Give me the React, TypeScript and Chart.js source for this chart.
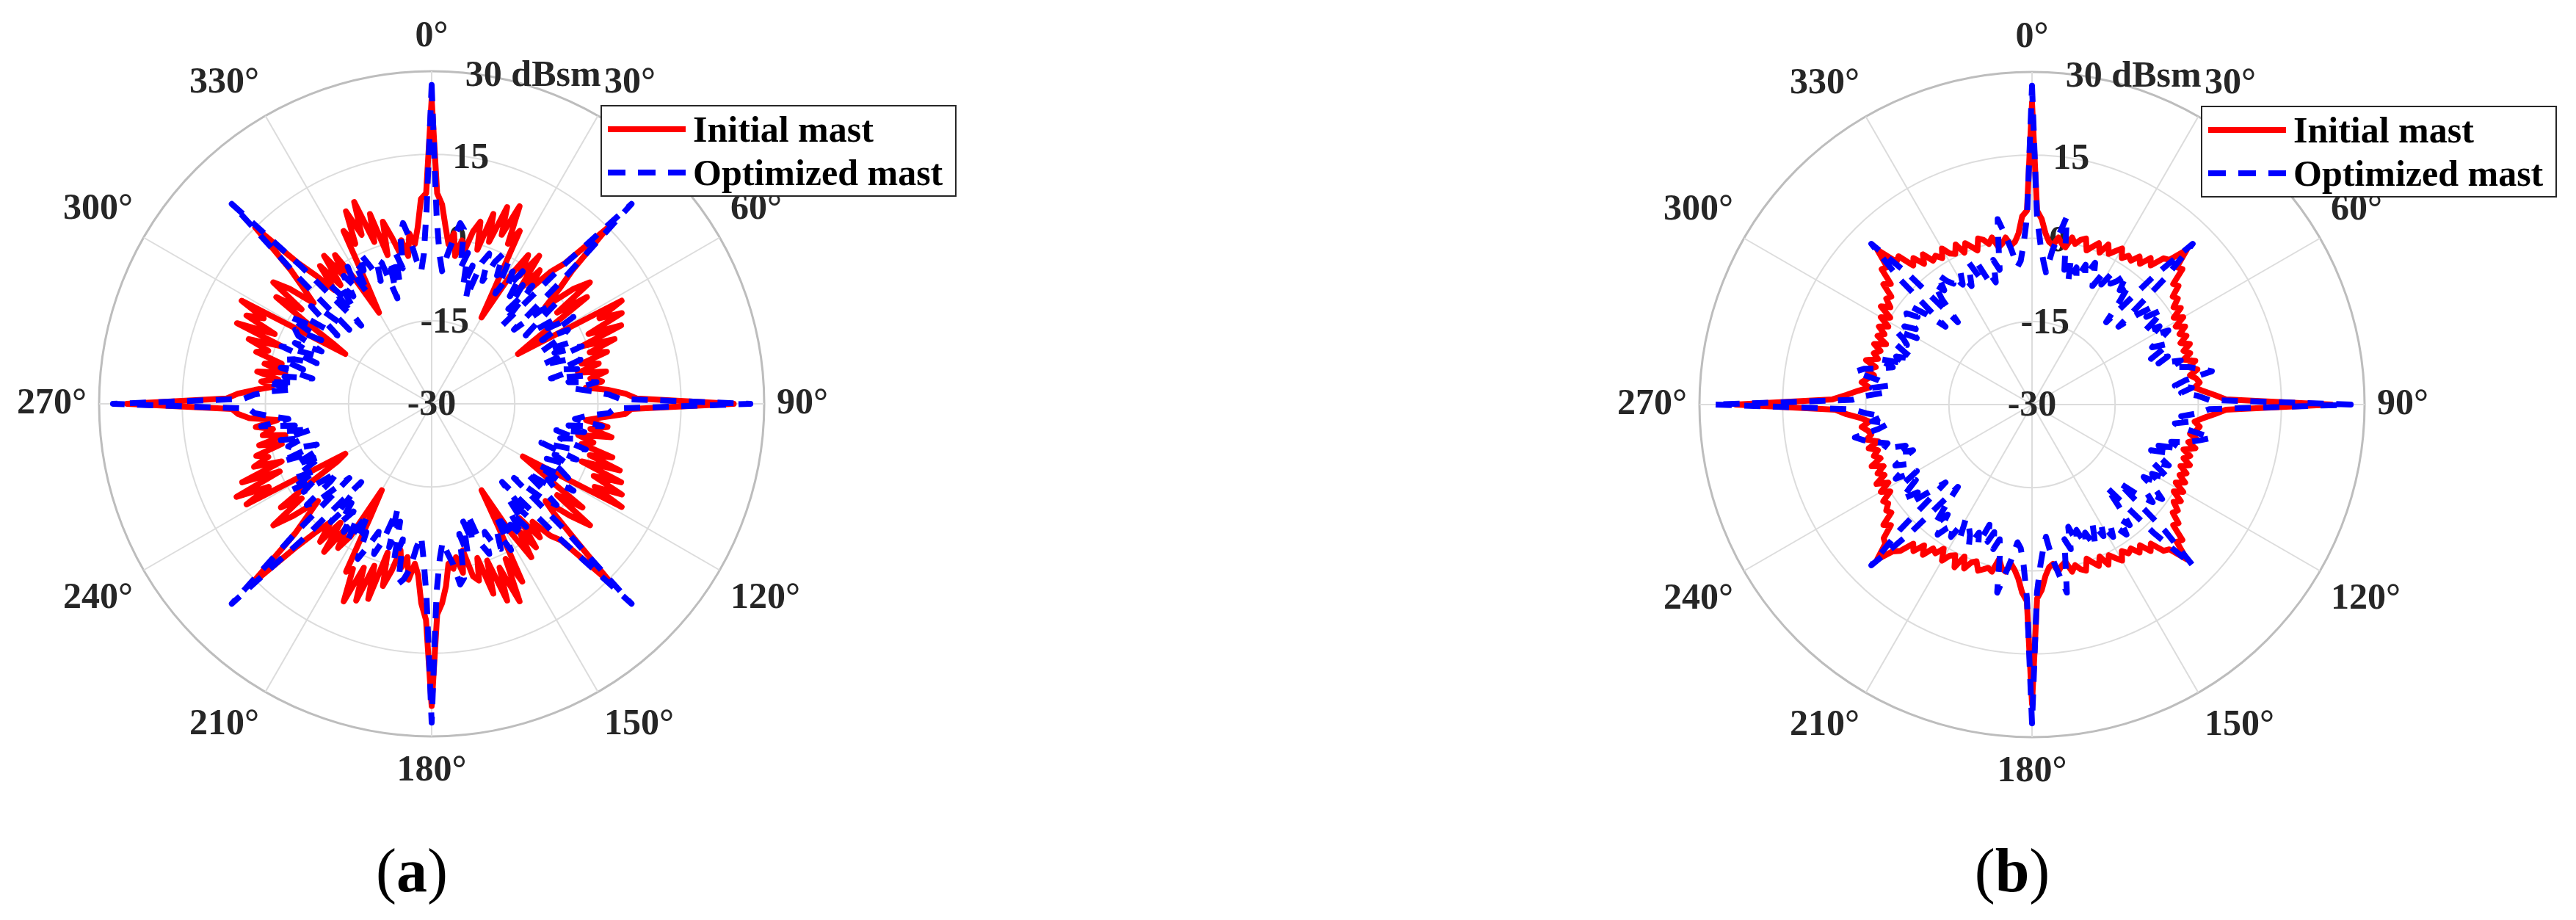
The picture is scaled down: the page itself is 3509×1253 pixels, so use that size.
import React, { useEffect, useRef } from 'react';
import { Chart, registerables } from 'chart.js';

Chart.register(...registerables);

// ---------- categories / ticks ----------
const ANGLE_STEP = 1.5;
const ANGLES = Array.from({ length: 240 }, (_, i) => i * ANGLE_STEP);
const ANGLE_LABELS = ANGLES.map((a) => (a % 30 === 0 ? `${a}°` : ''));
const R_TICKS = [-30, -15, 0, 15, 30];
const R_UNIT = 'dBsm';
const R_LABEL_ANGLE = 9;
const SERIES_NAMES = ['Initial mast', 'Optimized mast'];
const PANEL_LABELS = ['a', 'b'];

// ---------- series values (dBsm), 1.5° steps starting at 0° ----------
const INITIAL_A = [
  25, 8, 6, 2, -1, 1, -3, 0, -2, 2, 4, -1, 6, 1, 8, 3, 9, 2, 5, -6, -12, -3, 2, -2, 3, -4, 1, -3, 2, 5,
  15, 5, 1, -3, 3, 6, -2, 4, -4, -9, -12, 9, 4, 8, 1, 7, -1, 5, 0, 3, -2, 1, -3, 2, -1, 1, -2, 2, 5, 7,
  24.5, 6, 5, 1, -2, 2, -1, 3, -3, 0, -2, 4, 0, 6, -1, 7, 2, 8, 3, 9, -11, -8, -4, 3, -2, 6, 2, -3, 0, 6,
  16, 4, 2, -2, 1, -4, 2, -2, 3, -3, -12, -5, 6, 1, 9, 2, 8, 0, 6, -1, 3, 2, -3, 1, -2, 0, -1, 3, 6, 8,
  24.5, 9, 6, 1, -1, 2, -2, 0, -3, 1, 4, -2, 7, 1, 8, 2, 9, 3, 4, -7, -12, -2, 1, -3, 3, -3, 2, -2, 1, 6,
  16, 4, 0, -3, 2, 6, -1, 3, -4, -10, -12, 8, 3, 9, 0, 7, -1, 4, 1, 3, -2, 2, -3, 1, -1, 2, -2, 3, 5, 6,
  25, 7, 5, 2, -1, 1, -2, 2, -3, 1, -2, 3, 1, 5, -1, 8, 1, 7, 4, 9, -12, -9, -3, 4, -1, 6, 3, -2, 1, 5,
  15, 5, 1, -3, 2, -3, 3, -2, 2, -4, -11, -6, 5, 2, 8, 3, 9, 1, 6, -2, 4, 1, -2, 0, -3, 1, -1, 2, 7, 8,
];

const OPTIMIZED_A = [
  27.5, 4, -3, -6, -3, 0, 3, 2, -5, -2, -8, -4, -10, -3, -1, -6, -2, 0, -4, -1, -7, -2, -5, -1, -6, -3, -8, -2, -11, 4,
  21, 3, -10, -4, -1, -6, -9, -3, -5, 0, -7, -2, -4, -8, -3, -6, -1, -9, -4, -2, -6, -3, -8, -2, -5, 0, -4, -1, 2, 4,
  27.5, 3, 2, -2, -4, 1, -5, -2, -7, -3, -6, -1, -4, -9, -2, -6, -3, -7, -4, -2, -8, 0, -5, -3, -9, -5, -1, -4, -10, 4,
  21, 3, -11, -3, -8, -2, -6, -1, -4, -2, -7, 0, -4, -1, -2, -5, -1, -3, -9, -4, -8, -2, -6, 2, 3, -1, -3, -5, -2, 4,
  27.5, 5, -2, -6, -4, 0, 2, 3, -5, -1, -8, -3, -10, -4, -1, -5, -2, 1, -4, -2, -7, -1, -5, -2, -6, -3, -7, -2, -11, 3,
  21, 4, -10, -3, -1, -7, -9, -2, -5, 0, -6, -2, -5, -8, -3, -7, -1, -8, -4, -3, -6, -2, -8, -3, -5, 1, -4, -1, 2, 3,
  27.5, 4, 2, -1, -5, 0, -5, -3, -8, -2, -6, -2, -4, -8, -1, -7, -3, -8, -3, -2, -7, 0, -4, -3, -9, -6, -2, -4, -10, 3,
  21, 4, -11, -2, -7, -3, -6, -2, -5, -1, -7, -1, -3, 0, -3, -6, -2, -3, -10, -3, -8, -2, -5, 1, 3, 0, -4, -6, -3, 5,
];

const INITIAL_B = [
  24.5, 5, 3.5, 1, -0.5, -1, 0.5, -0.5, -1, 1, 0, 1, 1.5, -0.5, 0.5, 1.5, 0, 2, 0.5, 1.5, 2.5, 1, 2, 1.5, 3, 2, 4, 3, 5.5, 6,
  9.5, 6, 6.5, 3.5, 4, 2, 2.5, 1, 2, 0, 1.5, -0.5, 1, -0.5, 0.5, -1, 0.5, -1, 0, -1.5, 0.5, -1, 0.5, -1, 0, 0.5, -0.5, 1, 3, 5,
  24, 5, 3, 1, -0.5, 0.5, 0, -1, 0.5, -1, 0.5, -1.5, 0, -1, 0.5, -1, 0.5, -0.5, 1, -0.5, 1.5, 0, 2, 1, 2.5, 2, 4, 3.5, 6.5, 6,
  9.5, 6, 5.5, 3, 4, 2, 3, 1.5, 2, 1, 2.5, 1.5, 0.5, 2, 0, 1.5, 0.5, -0.5, 1.5, 1, 0, 1, -1, -0.5, 0.5, -1, -0.5, 1, 3.5, 5,
  24, 5.5, 4, 1.5, 0, -1, 0.5, 0, -1.5, 1, 0.5, 1, 1.5, 0, 0.5, 2, 0, 2.5, 0.5, 1, 2.5, 0.5, 2, 1.5, 3.5, 2, 4, 3, 5.5, 6.5,
  9.5, 6.5, 6, 3.5, 4.5, 2, 2.5, 1.5, 2, 0, 1.5, -0.5, 1.5, -0.5, 0.5, -1, 1, -1, 0, -1, 0.5, -1.5, 0.5, -0.5, 0, 1, -0.5, 1, 3.5, 5.5,
  23.5, 6, 3.5, 1.5, -0.5, 1, 0, -1, 0.5, -1, 1, -1, 0, -1, 0.5, -1.5, 0.5, -0.5, 1, -0.5, 1.5, 0, 2.5, 1, 2.5, 2, 4.5, 3.5, 6.5, 6,
  9.5, 5.5, 6, 3, 4, 2, 3.5, 1.5, 2, 1, 2.5, 1, 0.5, 2, 0, 1.5, 0.5, -0.5, 1.5, 1, 0, 1, -1, -0.5, 0.5, -1, -0.5, 1, 4, 5,
];

const OPTIMIZED_B = [
  27.5, 4, -1, -4, -6, -2, 1, 4.5, -1, -5, -3, -7, -4, -6, -3, -5, -2, -4, -6, -3, -5, -2, -4, -3, -1, -4, -2, -6, -10, 2,
  11, 3, -9, -5, -2, -4, -1, -3, -6, -3, -5, -2, -4, -6, -3, -5, -7, -4, -6, -2, -4, -1, 1, 3, -2, -4, -1, -3, 0, 2,
  27.5, 2, 0, -3, -1, -4, -2, 3, 1, -1, -4, -2, -6, -4, -7, -5, -3, -6, -4, -2, -5, -3, -6, -3, -1, -4, -2, -5, -9, 3,
  11, 2, -10, -6, -2, -4, -1, -3, -4, -2, -5, -3, -6, -4, -2, -5, -3, -6, -4, -7, -3, -5, -1, 4.5, 1, -2, -6, -4, -1, 4,
  27.5, 5, -1, -4, -5, -2, 1, 4.5, -2, -5, -3, -6, -4, -7, -3, -5, -2, -4, -5, -3, -6, -2, -4, -3, -1, -5, -2, -6, -10, 2,
  11, 3, -9, -6, -2, -4, -1, -3, -5, -3, -6, -2, -4, -5, -3, -5, -7, -4, -6, -2, -3, -1, 1, 2.5, -2, -4, -1, -3, 0, 2.5,
  27.5, 2.5, 0, -3, -1, -4, -2, 2.5, 1, -2, -4, -1, -6, -4, -7, -5, -3, -5, -4, -2, -6, -3, -5, -3, -2, -4, -2, -5, -9, 3,
  11, 2.5, -10, -5, -2, -4, -1, -3, -4, -3, -5, -3, -6, -4, -2, -5, -3, -6, -5, -7, -3, -5, -1, 4, 1, -2, -5, -4, -1, 4,
];

// ---------- styling / layout ----------
const RED = '#ff0000';
const BLUE = '#0000ff';
const TEXT_COLOR = '#262626';
const FONT_FAMILY = '"Liberation Serif", "Times New Roman", serif';
const FONT_SIZE = 50;
const RADIUS = 453;
const PANELS = [
  { cx: 588, cy: 550 },
  { cx: 2768, cy: 551 },
];

const rTickLabelPlugin = {
  id: 'rTickLabels',
  beforeDatasetsDraw(chart: any) {
    const s = chart.scales.r;
    const ctx = chart.ctx;
    ctx.save();
    ctx.font = `bold ${FONT_SIZE}px ${FONT_FAMILY}`;
    ctx.fillStyle = TEXT_COLOR;
    ctx.textAlign = 'left';
    ctx.textBaseline = 'middle';
    const idx = Math.round(R_LABEL_ANGLE / ANGLE_STEP);
    R_TICKS.forEach((v, k) => {
      const p = s.getPointPositionForValue(idx, v);
      const num = String(v);
      const w = ctx.measureText(num).width;
      const text = k === R_TICKS.length - 1 ? `${num} ${R_UNIT}` : num;
      ctx.fillText(text, p.x - w / 2, p.y + 2);
    });
    ctx.restore();
  },
};

function buildConfig(initial: number[], optimized: number[]) {
  return {
    type: 'radar',
    data: {
      labels: ANGLE_LABELS,
      datasets: [
        {
          label: SERIES_NAMES[0],
          data: initial,
          borderColor: RED,
          backgroundColor: RED,
          borderWidth: 8,
          borderJoinStyle: 'round',
          borderCapStyle: 'round',
          fill: false,
          pointRadius: 0,
          pointHoverRadius: 0,
          order: 1,
        },
        {
          label: SERIES_NAMES[1],
          data: optimized,
          borderColor: BLUE,
          backgroundColor: BLUE,
          borderWidth: 8,
          borderDash: [22, 17],
          borderJoinStyle: 'round',
          borderCapStyle: 'butt',
          fill: false,
          pointRadius: 0,
          pointHoverRadius: 0,
          order: 0,
        },
      ],
    },
    options: {
      animation: false,
      responsive: false,
      maintainAspectRatio: false,
      devicePixelRatio: 1,
      events: [],
      layout: { padding: 0 },
      plugins: { legend: { display: false }, tooltip: { enabled: false } },
      elements: { line: { tension: 0 }, point: { radius: 0 } },
      scales: {
        r: {
          min: R_TICKS[0],
          max: R_TICKS[R_TICKS.length - 1],
          beginAtZero: false,
          ticks: { display: false, stepSize: 15 },
          grid: {
            circular: true,
            color: (c: any) => (c.tick && c.tick.value === 30 ? '#bdbdbd' : '#dcdcdc'),
            lineWidth: (c: any) => (c.tick && c.tick.value === 30 ? 3 : 2),
          },
          angleLines: {
            display: true,
            color: '#dcdcdc',
            lineWidth: (c: any) => (c.index % 20 === 0 ? 2 : 0),
          },
          pointLabels: {
            display: true,
            color: TEXT_COLOR,
            padding: 17,
            font: { family: FONT_FAMILY, size: FONT_SIZE, weight: 'bold', lineHeight: 1.2 },
          },
        },
      },
    },
    plugins: [rTickLabelPlugin],
  };
}

function PolarPanel({ initial, optimized, cx, cy }: { initial: number[]; optimized: number[]; cx: number; cy: number }) {
  const ref = useRef<HTMLCanvasElement>(null);
  useEffect(() => {
    const canvas = ref.current as HTMLCanvasElement;
    const make = (size: number) => {
      canvas.width = size;
      canvas.height = size;
      canvas.style.width = `${size}px`;
      canvas.style.height = `${size}px`;
      return new Chart(canvas, buildConfig(initial, optimized) as any);
    };
    const guess = 1130;
    let chart: any = make(guess);
    const margin = Math.floor(guess / 2) - chart.scales.r.drawingArea;
    const size = Math.round(2 * (RADIUS + margin));
    if (size !== guess) {
      chart.destroy();
      chart = make(size);
    }
    const s = chart.scales.r;
    canvas.style.left = `${cx - s.xCenter}px`;
    canvas.style.top = `${cy - s.yCenter}px`;
    return () => chart.destroy();
  }, [initial, optimized, cx, cy]);
  return <canvas ref={ref} style={{ position: 'absolute', left: 0, top: 0 }} />;
}

function Legend({ x, y }: { x: number; y: number }) {
  return (
    <g transform={`translate(${x},${y})`}>
      <rect x={1} y={1} width={483} height={123} fill="#ffffff" stroke={TEXT_COLOR} strokeWidth={2} />
      <line x1={10} y1={33} x2={116} y2={33} stroke={RED} strokeWidth={8} />
      <line x1={10} y1={92} x2={116} y2={92} stroke={BLUE} strokeWidth={8} strokeDasharray="24 17" />
      <text x={126} y={50} fontFamily={FONT_FAMILY} fontWeight="bold" fontSize={FONT_SIZE} fill="#000">
        {SERIES_NAMES[0]}
      </text>
      <text x={126} y={109} fontFamily={FONT_FAMILY} fontWeight="bold" fontSize={FONT_SIZE} fill="#000">
        {SERIES_NAMES[1]}
      </text>
    </g>
  );
}

export default function App() {
  const data = [
    { initial: INITIAL_A, optimized: OPTIMIZED_A },
    { initial: INITIAL_B, optimized: OPTIMIZED_B },
  ];
  return (
    <div
      style={{
        position: 'absolute',
        left: 0,
        top: 0,
        width: 3509,
        height: 1253,
        overflow: 'hidden',
        background: '#ffffff',
      }}
    >
      {PANELS.map((p, i) => (
        <PolarPanel key={i} initial={data[i].initial} optimized={data[i].optimized} cx={p.cx} cy={p.cy} />
      ))}
      <svg width={3509} height={1253} style={{ position: 'absolute', left: 0, top: 0 }}>
        {PANELS.map((p, i) => (
          <g key={i}>
            <Legend x={p.cx + 230} y={p.cy - 407} />
            <text x={p.cx - 27} y={1214} textAnchor="middle" fontFamily={FONT_FAMILY} fontSize={84} fill="#000">
              (<tspan fontWeight="bold">{PANEL_LABELS[i]}</tspan>)
            </text>
          </g>
        ))}
      </svg>
    </div>
  );
}
